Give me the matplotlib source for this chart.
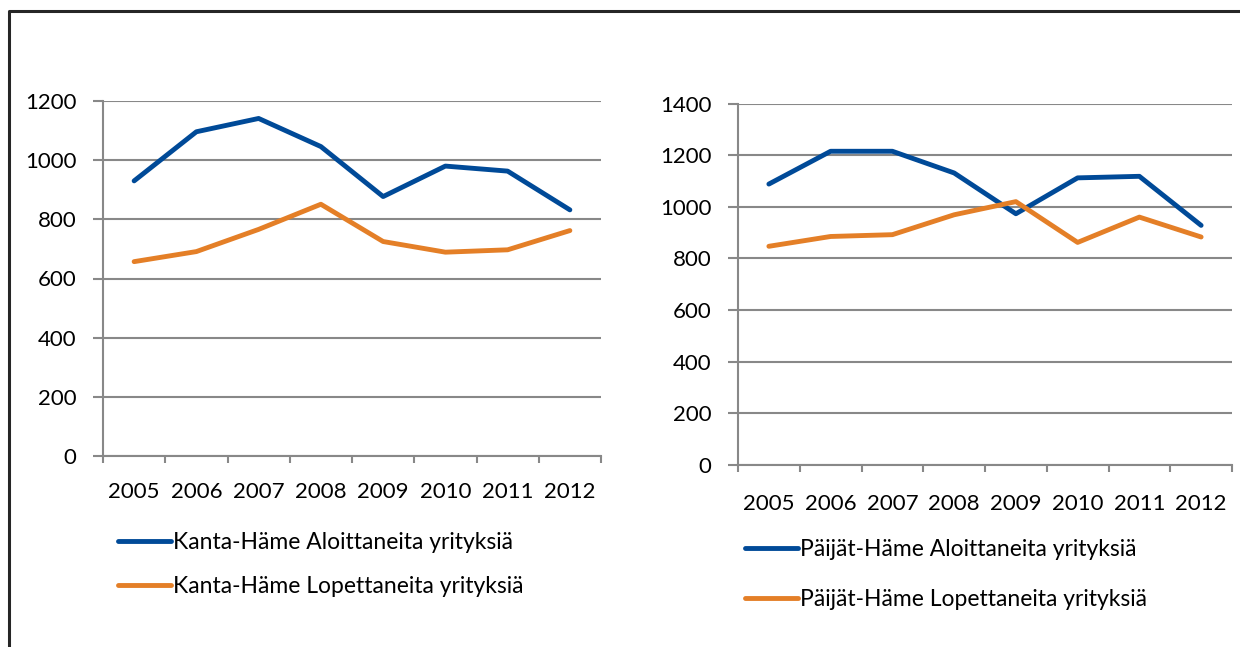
import matplotlib.pyplot as plt
from matplotlib.lines import Line2D

years = ['2005', '2006', '2007', '2008', '2009', '2010', '2011', '2012']

kanta_aloit = [930, 1096, 1141, 1046, 877, 980, 963, 832]
kanta_lopet = [657, 691, 766, 851, 725, 689, 697, 762]

paijat_aloit = [1088, 1215, 1215, 1131, 973, 1112, 1118, 928]
paijat_lopet = [847, 885, 892, 969, 1020, 862, 960, 883]

blue = '#004a98'
orange = '#e47f27'
grid = '#888888'

plt.rcParams['font.family'] = ['Lato', 'DejaVu Sans']
fs = 16
lfs = 16.5

W, H = 1240, 647
fig = plt.figure(figsize=(W / 100, H / 100), dpi=100)


def fx(px):
    return px / W


def fy(py):
    return 1 - py / H


def panel(rect, a, b, names, ymax, legend_xy, spacing, xlab_pad):
    ax = fig.add_axes(rect)
    x = list(range(len(years)))
    ax.plot(x, a, color=blue, lw=3.5, solid_capstyle='round', solid_joinstyle='round', label=names[0])
    ax.plot(x, b, color=orange, lw=3.5, solid_capstyle='round', solid_joinstyle='round', label=names[1])
    ax.set_xlim(-0.5, len(years) - 0.5)
    ax.set_ylim(0, ymax)
    ax.set_yticks(range(0, ymax + 1, 200))
    ax.yaxis.grid(True, color=grid, lw=1.5)
    ax.set_axisbelow(True)
    ax.set_xticks([i - 0.5 for i in range(len(years) + 1)])
    ax.set_xticklabels([])
    ax.set_xticks(x, minor=True)
    ax.set_xticklabels(years, minor=True)
    ax.tick_params(axis='x', which='major', length=5, width=1.5, color=grid, direction='out')
    ax.tick_params(axis='x', which='minor', length=0, pad=xlab_pad, labelsize=fs)
    ax.tick_params(axis='y', length=7, width=1.5, color=grid, pad=12, labelsize=fs)
    for s in ['top', 'right']:
        ax.spines[s].set_visible(False)
    for s in ['left', 'bottom']:
        ax.spines[s].set_color(grid)
        ax.spines[s].set_linewidth(1.5)
    ax.legend(loc='upper left', bbox_to_anchor=legend_xy, bbox_transform=fig.transFigure,
              frameon=False, fontsize=lfs, handlelength=2.3, handletextpad=0.1,
              labelspacing=spacing, borderpad=0, borderaxespad=0)
    return ax


panel([fx(103), fy(456), fx(601) - fx(103), fy(101) - fy(456)],
      kanta_aloit, kanta_lopet,
      ['Kanta-Häme Aloittaneita yrityksiä', 'Kanta-Häme Lopettaneita yrityksiä'],
      1200, (fx(118), fy(532)), 1.0, 19)

panel([fx(738), fy(465), fx(1232) - fx(738), fy(103.5) - fy(465)],
      paijat_aloit, paijat_lopet,
      ['Päijät-Häme Aloittaneita yrityksiä', 'Päijät-Häme Lopettaneita yrityksiä'],
      1400, (fx(745), fy(539)), 1.28, 21)

fig.add_artist(Line2D([fx(9), fx(9), 1.0], [0.0, fy(11), fy(11)],
                      transform=fig.transFigure, color='#262626', lw=2.2))

fig.savefig('out.png', dpi=100)
